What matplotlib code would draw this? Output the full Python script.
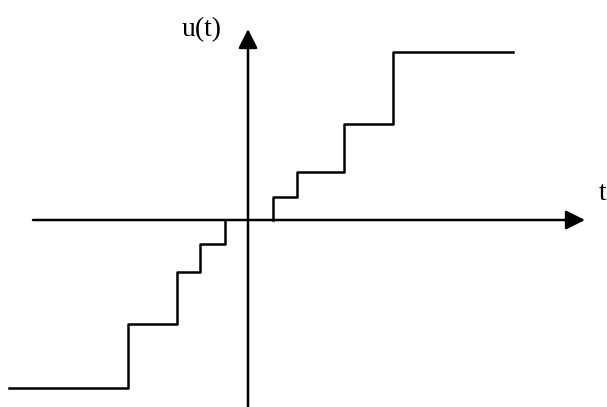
import matplotlib
matplotlib.use("Agg")
import matplotlib.pyplot as plt

# staircase u(t), units are pixels from the axis origin
t_pos = [25, 25, 49, 96, 145, 265]
u_pos = [0, 23, 48, 96, 168, 168]
t_neg = [-239, -120, -71, -48, -23, -23]
u_neg = [-168, -104, -52, -24, 0, 0]

fig = plt.figure(figsize=(6.07, 4.07), dpi=100)
ax = fig.add_axes([0, 0, 1, 1])
ax.set_xlim(-248, 359)
ax.set_ylim(-187, 220)
ax.axis('off')

# axes with arrow heads
arrow = dict(arrowstyle='-|>,head_length=0.4,head_width=0.2', lw=1.8,
             color='k', mutation_scale=29, shrinkA=0, shrinkB=0)
ax.annotate('', xy=(337, 0), xytext=(-215, 0), arrowprops=arrow)
ax.annotate('', xy=(0, 191), xytext=(0, -187), arrowprops=arrow)

ax.step(t_pos, u_pos, where='post', color='k', lw=1.8)
ax.step(t_neg, u_neg, where='post', color='k', lw=1.8)

ax.text(-46, 190, 'u(t)', family='Liberation Serif', fontsize=20,
        ha='center', va='center')
ax.text(351, 27, 't', family='Liberation Serif', fontsize=20,
        ha='left', va='center')

fig.savefig('out.png', dpi=100)
